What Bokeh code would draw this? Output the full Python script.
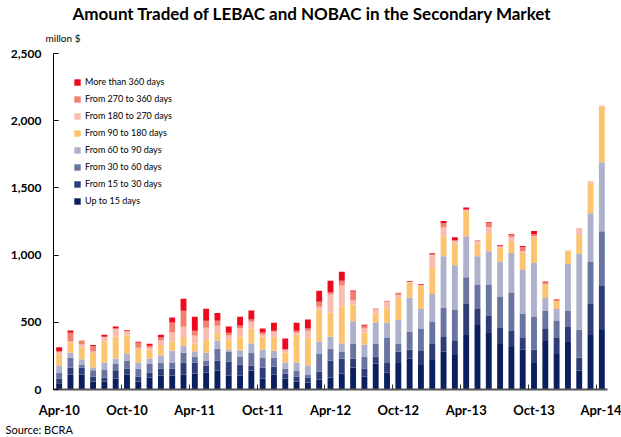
from bokeh.plotting import figure
from bokeh.models import (FixedTicker, NumeralTickFormatter, Legend, LegendItem,
                          Title, ColumnDataSource, Range1d)
from bokeh.embed import file_html
from bokeh.resources import INLINE

months = ["Apr-10", "May-10", "Jun-10", "Jul-10", "Aug-10", "Sep-10", "Oct-10", "Nov-10", "Dec-10",
          "Jan-11", "Feb-11", "Mar-11", "Apr-11", "May-11", "Jun-11", "Jul-11", "Aug-11", "Sep-11",
          "Oct-11", "Nov-11", "Dec-11", "Jan-12", "Feb-12", "Mar-12", "Apr-12", "May-12", "Jun-12",
          "Jul-12", "Aug-12", "Sep-12", "Oct-12", "Nov-12", "Dec-12", "Jan-13", "Feb-13", "Mar-13",
          "Apr-13", "May-13", "Jun-13", "Jul-13", "Aug-13", "Sep-13", "Oct-13", "Nov-13", "Dec-13",
          "Jan-14", "Feb-14", "Mar-14", "Apr-14"]

up_to_15 = [47, 111, 111, 59, 59, 82, 111, 59, 89, 104, 104, 111, 119, 126, 141, 104, 104, 141, 82, 110,
            82, 59, 52, 74, 89, 119, 164, 97, 193, 124, 198, 228, 183, 220, 280, 257, 406, 480, 421,
            339, 317, 295, 198, 361, 265, 354, 139, 406, 443]
from_15_30 = [35, 52, 50, 37, 30, 62, 45, 37, 37, 52, 52, 89, 82, 52, 74, 104, 82, 37, 82, 60,
              37, 37, 37, 59, 126, 112, 67, 59, 52, 74, 82, 67, 104, 119, 111, 104, 230, 119, 126,
              119, 119, 89, 97, 89, 119, 111, 97, 230, 327]
from_30_60 = [45, 74, 25, 47, 59, 50, 59, 59, 67, 45, 45, 74, 45, 37, 89, 74, 59, 97, 74, 67,
              37, 45, 22, 134, 89, 52, 112, 89, 97, 186, 59, 134, 163, 163, 215, 230, 200, 178, 230,
              230, 282, 178, 245, 134, 126, 119, 208, 312, 408]
from_60_90 = [52, 37, 40, 20, 52, 37, 52, 45, 37, 52, 89, 52, 37, 59, 59, 15, 45, 67, 59, 52,
              45, 59, 67, 89, 89, 59, 164, 89, 156, 112, 179, 253, 149, 208, 386, 334, 304, 215, 252,
              260, 297, 327, 401, 97, 89, 349, 564, 364, 512]
from_90_180 = [79, 77, 89, 109, 158, 163, 134, 101, 69, 79, 67, 67, 59, 97, 59, 74, 104, 111, 97, 104,
               74, 208, 208, 238, 179, 275, 126, 89, 67, 112, 156, 112, 171, 200, 149, 156, 186, 97, 134,
               111, 89, 126, 186, 97, 59, 97, 141, 223, 416]
from_180_270 = [20, 7, 20, 10, 35, 59, 30, 10, 12, 32, 67, 74, 59, 89, 52, 30, 59, 52, 15, 37,
                22, 15, 52, 22, 134, 156, 30, 30, 30, 45, 30, 7, 7, 89, 67, 22, 7, 15, 45,
                7, 30, 15, 15, 7, 0, 4, 52, 15, 7]
from_270_360 = [7, 64, 30, 42, 0, 0, 5, 37, 15, 22, 74, 119, 37, 52, 37, 22, 22, 15, 15, 7,
                0, 15, 15, 37, 15, 37, 67, 22, 7, 7, 15, 0, 0, 7, 30, 7, 7, 7, 30,
                0, 15, 30, 15, 22, 15, 0, 0, 0, 0]
more_360 = [30, 17, 0, 7, 15, 15, 5, 7, 15, 22, 37, 89, 104, 89, 59, 45, 67, 67, 30, 59,
            82, 59, 67, 82, 89, 67, 7, 7, 0, 0, 0, 7, 7, 7, 15, 22, 15, 0, 7,
            7, 7, 7, 22, 0, 0, 0, 0, 0, 0]

series_names = ["Up to 15 days", "From 15 to 30 days", "From 30 to 60 days", "From 60 to 90 days",
                "From 90 to 180 days", "From 180 to 270 days", "From 270 to 360 days",
                "More than 360 days"]
series_values = [up_to_15, from_15_30, from_30_60, from_60_90, from_90_180, from_180_270,
                 from_270_360, more_360]
colors = ["#0b1f5e", "#2e3d78", "#6a74a0", "#aeb1cc", "#fdc46f", "#f9bcae", "#f2806f", "#ee0a1e"]

tick_idx = list(range(0, len(months), 6))
y_ticks = [0, 500, 1000, 1500, 2000, 2500]

keys = ["s%d" % i for i in range(len(series_names))]
data = {"x": list(range(len(months)))}
for k, v in zip(keys, series_values):
    data[k] = v
src = ColumnDataSource(data=data)

FONT = "Lato"

p = figure(width=621, height=437, output_backend="svg", toolbar_location=None,
           x_range=Range1d(-0.5, len(months) - 0.5), y_range=Range1d(0, 2500),
           min_border_left=53, min_border_right=14, min_border_top=53, min_border_bottom=48)
p.outline_line_color = None
p.grid.visible = False
p.background_fill_color = "white"
p.border_fill_color = "white"

rs = p.vbar_stack(keys, x="x", width=0.52, color=colors, line_color=None, source=src)

# x axis
p.xaxis.ticker = FixedTicker(ticks=tick_idx, minor_ticks=[i - 0.5 for i in tick_idx])
p.xaxis.major_label_overrides = {i: months[i] for i in tick_idx}
p.xaxis.major_tick_line_color = None
p.xaxis.major_tick_in = 0
p.xaxis.major_tick_out = 0
p.xaxis.minor_tick_in = 5
p.xaxis.minor_tick_out = 0
p.xaxis.minor_tick_line_color = "#333333"
p.xaxis.axis_line_color = "#555555"
p.xaxis.axis_line_width = 2
p.xaxis.major_label_standoff = 12
p.xaxis.major_label_text_font = FONT
p.xaxis.major_label_text_font_style = "bold"
p.xaxis.major_label_text_font_size = "13px"
p.xaxis.major_label_text_color = "black"

# y axis
p.yaxis.ticker = FixedTicker(ticks=y_ticks)
p.yaxis.formatter = NumeralTickFormatter(format="0,0")
p.yaxis.major_tick_in = 5
p.yaxis.major_tick_out = 0
p.yaxis.minor_tick_line_color = None
p.yaxis.major_tick_line_color = "black"
p.yaxis.axis_line_color = "black"
p.yaxis.major_label_standoff = 12
p.yaxis.major_label_text_font = FONT
p.yaxis.major_label_text_font_style = "bold"
p.yaxis.major_label_text_font_size = "12px"
p.yaxis.major_label_text_color = "black"

items = [LegendItem(label=n, renderers=[r]) for n, r in zip(series_names, rs)][::-1]
legend = Legend(items=items, location="top_left", margin=20, padding=0,
                border_line_color=None, background_fill_alpha=0,
                glyph_width=8, glyph_height=8, label_height=17, spacing=0,
                label_standoff=4, label_text_font=FONT, label_text_font_size="9px",
                label_text_color="black")
p.add_layout(legend)

# texts outside the frame
p.add_layout(Title(text="millon $", align="left", offset=-8, vertical_align="top", standoff=16,
                   text_font=FONT, text_font_style="normal", text_font_size="10px",
                   text_color="black"), "above")
p.add_layout(Title(text="Amount Traded of LEBAC and NOBAC in the Secondary Market", align="left",
                   offset=19, vertical_align="bottom", standoff=0, text_font=FONT,
                   text_font_style="bold", text_font_size="17px", text_color="black"), "above")
p.add_layout(Title(text="Source: BCRA", align="left", offset=-48, vertical_align="bottom", standoff=1,
                   text_font=FONT, text_font_style="normal", text_font_size="11px",
                   text_color="black"), "below")

open("out.html", "w").write(file_html(p, INLINE))
